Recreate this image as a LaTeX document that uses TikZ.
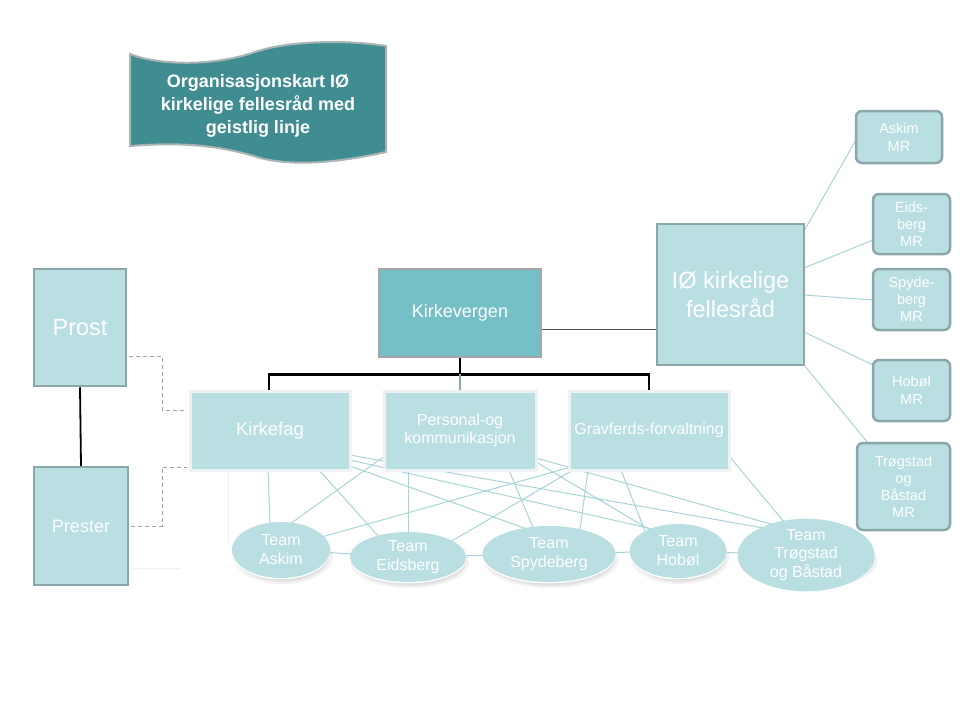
\documentclass[tikz,border=0pt]{standalone}
\usepackage{fontspec}
\setmainfont{Liberation Sans}
\usetikzlibrary{calc,backgrounds,shapes.geometric}
\definecolor{lightf}{RGB}{185,223,227}
\definecolor{bordc}{RGB}{139,167,169}
\definecolor{kvfill}{RGB}{117,192,198}
\definecolor{kvbord}{RGB}{166,166,166}
\definecolor{banfill}{RGB}{63,140,145}
\definecolor{banbord}{RGB}{170,180,181}
\definecolor{deptb}{RGB}{238,242,242}
\definecolor{connc}{RGB}{168,212,216}
\definecolor{dashc}{RGB}{160,160,160}
\begin{document}
\begin{tikzpicture}[x=1pt,y=-1pt,
  box/.style={draw=bordc, line width=2.5pt, fill=lightf, text=white, inner sep=0pt, align=center},
  mrbox/.style={box, rounded corners=6pt},
  dept/.style={draw=deptb, line width=3pt, fill=lightf, text=white, inner sep=0pt, align=center},
  team/.style={ellipse, fill=lightf, text=white, inner sep=0pt, align=center},
  conn/.style={draw=connc, line width=1pt, shorten <=-6pt, shorten >=-6pt},
  tree/.style={draw=black, line width=2.5pt},
  dashgray/.style={draw=dashc, line width=1pt, dash pattern=on 4pt off 3pt},
  fA/.style={font=\fontsize{23.5}{29}\selectfont},
  fB/.style={font=\fontsize{18}{22}\selectfont},
  fC/.style={font=\fontsize{16}{18.5}\selectfont},
  fD/.style={font=\fontsize{14.5}{17}\selectfont},
]
\begin{scope}[on background layer]
  \fill[white] (0,0) rectangle (960,720);
\end{scope}
\useasboundingbox (0,0) rectangle (960,720);

% banner
\draw[fill=banfill, draw=banbord, line width=2pt]
  (130,54) .. controls (160,66) and (215,66) .. (255,52)
  .. controls (290,40) and (350,40) .. (386,46)
  -- (386,152)
  .. controls (350,160) and (300,168) .. (260,158)
  .. controls (220,145) and (180,142) .. (130,146) -- cycle;
\node[text=white, align=center, font=\bfseries\fontsize{18}{23}\selectfont] (title) at (258,106)
  {Organisasjonskart IØ\\kirkelige fellesråd med\\geistlig linje};

% main boxes
\node[box, fA, minimum width=92, minimum height=117] (pr) at (80,327.5) {Prost};
\node[box, fB, minimum width=94, minimum height=118] (ps) at (81,526) {Prester};
\node[box, fB, draw=kvbord, fill=kvfill, minimum width=162, minimum height=88] (kv) at (460,313) {Kirkevergen};
\node[box, fA, minimum width=147, minimum height=141] (io) at (730.5,294.5) {IØ kirkelige\\fellesråd};

% departments
\node[dept, font=\fontsize{18.5}{22}\selectfont, minimum width=160, minimum height=79] (kf) at (270,430.5) {Kirkefag};
\node[dept, fC, minimum width=152, minimum height=79] (pk) at (460,430.5) {Personal-og\\kommunikasjon};
\node[dept, fC, minimum width=160, minimum height=79] (gf) at (649,430.5) {Gravferds-forvaltning};

% MR boxes
\node[mrbox, font=\fontsize{14.5}{18}\selectfont, minimum width=86, minimum height=52] (aMR) at (899,137) {Askim\\MR};
\node[mrbox, fD, minimum width=77, minimum height=60] (eMR) at (911.5,224) {Eids-\\berg\\MR};
\node[mrbox, fD, minimum width=77, minimum height=61] (sMR) at (911.5,299.5) {Spyde-\\berg\\MR};
\node[mrbox, font=\fontsize{14.5}{18}\selectfont, minimum width=77, minimum height=61] (hMR) at (911.5,390.5) {Hobøl\\MR};
\node[mrbox, fD, minimum width=93, minimum height=87] (tMR) at (903.5,486.5) {Trøgstad\\og\\Båstad\\MR};

% teams
\node[team, font=\fontsize{16}{19}\selectfont, minimum width=98, minimum height=56] (tA) at (281,550) {Team\\Askim};
\node[team, font=\fontsize{16}{19}\selectfont, minimum width=116, minimum height=50] (tE) at (408,557) {Team\\Eidsberg};
\node[team, font=\fontsize{16}{19}\selectfont, minimum width=133, minimum height=56] (tS) at (549,554) {Team\\Spydeberg};
\node[team, font=\fontsize{16}{19}\selectfont, minimum width=97, minimum height=54] (tH) at (678,551) {Team\\Hobøl};
\node[team, font=\fontsize{16}{18.5}\selectfont, minimum width=137, minimum height=56] (tT) at (806,555) {Team\\Trøgstad\\og Båstad};

% connectors and shadows behind nodes
\begin{scope}[on background layer]
  % chain between teams
  \draw[connc, line width=1pt] (tA.center) -- (tE.center) -- (tS.center) -- (tH.center) -- (tT.center);
  % Kirkefag
  \draw[conn] ($(kf.center)+(-2,39.5)$) -- ($(tA.center)+(-11,-28)$);
  \draw[conn] ($(kf.center)+(49,39.5)$) -- ($(tE.center)+(-28,-19)$);
  \draw[conn] ($(kf.center)+(80,35.5)$) -- ($(tS.center)+(-19,-24)$);
  \draw[conn] ($(kf.center)+(80,29.5)$) -- ($(tH.center)+(-30,-23)$);
  \draw[conn] ($(kf.center)+(80,24.5)$) -- ($(tT.center)+(-31,-25)$);
  % Personal
  \draw[conn] ($(pk.center)+(-74,24.5)$) -- ($(tA.center)+(9,-26)$);
  \draw[conn] ($(pk.center)+(-52,39.5)$) -- ($(tE.center)+(0,-24)$);
  \draw[conn] ($(pk.center)+(49,39.5)$) -- ($(tS.center)+(-15,-24)$);
  \draw[conn] ($(pk.center)+(76,31.5)$) -- ($(tH.center)+(-28,-21)$);
  \draw[conn] ($(pk.center)+(76,27.5)$) -- ($(tT.center)+(-21,-27)$);
  % Gravferd
  \draw[conn] ($(gf.center)+(-78,36.5)$) -- ($(tA.center)+(37,-12)$);
  \draw[conn] ($(gf.center)+(-76,39.5)$) -- ($(tE.center)+(37,-12)$);
  \draw[conn] ($(gf.center)+(-61,39.5)$) -- ($(tS.center)+(31,-24)$);
  \draw[conn] ($(gf.center)+(-28,39.5)$) -- ($(tH.center)+(-33,-20)$);
  \draw[conn] ($(gf.center)+(80,25.5)$) -- ($(tT.center)+(-16,-26)$);
  % IØ to MR
  \draw[conn] ($(io.center)+(73.5,-63.5)$) -- ($(aMR.center)+(-42,1)$);
  \draw[conn] ($(io.center)+(73.5,-26.5)$) -- ($(eMR.center)+(-38.5,16)$);
  \draw[conn] ($(io.center)+(73.5,0.5)$) -- ($(sMR.center)+(-38.5,0.5)$);
  \draw[conn] ($(io.center)+(73.5,37.5)$) -- ($(hMR.center)+(-38.5,-25.5)$);
  \draw[conn] ($(io.center)+(73.5,70.5)$) -- ($(tMR.center)+(-35.5,-43.5)$);
  % faint lines
  \draw[gray!12, line width=1pt] ($(ps.east)+(2,42)$) -- ++(50,0);
  \draw[gray!12, line width=1pt] ($(kf.south west)+(40,0)$) -- ++(0,72);
  % soft shadows under the team ellipses
  \foreach \n/\rx/\ry in {tA/49/28, tE/58/25, tS/66.5/28, tH/48.5/27, tT/68.5/28} {
    \fill[black, opacity=0.05] ($(\n.center)+(2,6)$) ellipse [x radius=\rx+1, y radius=\ry];
    \fill[black, opacity=0.06] ($(\n.center)+(2,5)$) ellipse [x radius=\rx-2, y radius=\ry-1];
    \fill[black, opacity=0.08] ($(\n.center)+(2,4)$) ellipse [x radius=\rx-5, y radius=\ry-2];
    \fill[white] ($(\n.center)+(0,1.5)$) ellipse [x radius=\rx, y radius=\ry];
  }
\end{scope}

% Kirkevergen to IØ
\coordinate (kvr) at ($(kv.east)+(0,16)$);
\draw[draw=black!70, line width=1pt] (kvr) -- (kvr -| io.west);

% tree
\draw[tree] (kv.south) -- ++(0,16) coordinate (tj) -| ($(kf.north)+(-1,0)$);
\draw[tree] (tj) -| (gf.north);
\draw[draw=bordc, line width=2.5pt] (tj) -- (tj |- pk.north);

% Prost - Prester
\draw[draw=black, line width=1.8pt] (pr.south) -- (ps.north);

% dashed
\draw[dashgray] ($(pr.east)+(2,28.5)$) -- ++(33,0) |- ($(kf.west)+(-1.5,-20.5)$);
\draw[dashgray] ($(ps.east)+(2,0)$) -- ++(31,0) |- ($(kf.west)+(-1.5,36.5)$);
\end{tikzpicture}
\end{document}
